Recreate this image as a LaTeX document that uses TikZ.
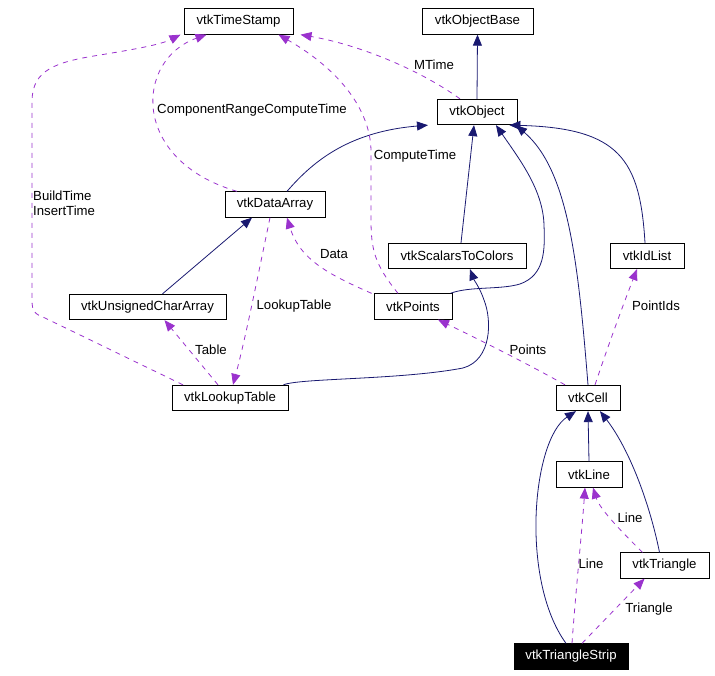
\documentclass[tikz,border=0pt]{standalone}
\usepackage{fontspec}
\setmainfont{Liberation Sans}
\usetikzlibrary{arrows.meta}
\definecolor{inh}{HTML}{191970}
\definecolor{use}{HTML}{9A32CD}
\begin{document}
\begin{tikzpicture}[x=1pt,y=-1pt,
  cls/.style={draw=black,line width=0.8pt,fill=white,inner sep=0pt,minimum height=25.5pt,font=\fontsize{13.2}{15}\selectfont},
  inhe/.style={draw=inh,line width=0.8pt,-{Triangle[length=11pt,width=9pt,fill=inh]}},
  usee/.style={draw=use,line width=0.8pt,dash pattern=on 5pt off 5pt,-{Triangle[length=11pt,width=9pt,fill=use]}},
  lab/.style={inner sep=0pt,font=\fontsize{13.2}{15}\selectfont}]
\useasboundingbox (0,0) rectangle (715,676);
% nodes
\node[cls,minimum width=109pt] (tst) at (238.5,21.5) {vtkTimeStamp};
\node[cls,minimum width=111pt] (ob) at (477.5,21.5) {vtkObjectBase};
\node[cls,minimum width=80pt] (obj) at (477,112) {vtkObject};
\node[cls,minimum width=100pt] (da) at (275,204.5) {vtkDataArray};
\node[cls,minimum width=138pt] (stc) at (457,256) {vtkScalarsToColors};
\node[cls,minimum width=74pt] (id) at (647,256) {vtkIdList};
\node[cls,minimum width=157pt] (uca) at (147.5,307) {vtkUnsignedCharArray};
\node[cls,minimum width=78pt] (pts) at (413,306.5) {vtkPoints};
\node[cls,minimum width=116pt] (lt) at (230,398) {vtkLookupTable};
\node[cls,minimum width=64pt] (cell) at (588,398) {vtkCell};
\node[cls,minimum width=66pt] (line) at (589,474.5) {vtkLine};
\node[cls,minimum width=89pt] (tri) at (664.5,565.5) {vtkTriangle};
\node[cls,minimum width=114pt,fill=black,text=white] (ts) at (571,656.5) {vtkTriangleStrip};
% inheritance
\draw[inhe] (obj.north) -- (ob.south);
\draw[inhe] ([xshift=12pt]da.north) .. controls (310,165) and (345,132) .. ([xshift=-49pt]obj.south);
\draw[inhe] ([xshift=4pt]stc.north) -- ([xshift=-3pt]obj.south);
\draw[inhe] ([xshift=-2pt]pts.north east) .. controls (470,286) and (500,290) .. (520,284)
  .. controls (545,275) and (545,250) .. (544,225)
  .. controls (543,190) and (520,160) .. ([xshift=19pt]obj.south);
\draw[inhe] (cell.north) .. controls (578,260) and (568,170) .. ([xshift=39pt]obj.south);
\draw[inhe] ([xshift=-2pt]id.north) .. controls (640,160) and (620,128) .. ([xshift=-8pt]obj.south east);
\draw[inhe] ([xshift=-5pt]lt.north east) .. controls (300,378) and (400,380) .. (463,368)
  .. controls (492,360) and (492,320) .. (484,300)
  .. controls (480,288) and (474,280) .. ([xshift=13pt]stc.south);
\draw[inhe] ([xshift=15pt]uca.north) -- ([xshift=-23pt]da.south);
\draw[inhe] (line.north) -- (cell.south);
\draw[inhe] ([xshift=-5pt]tri.north) .. controls (650,505) and (630,450) .. ([xshift=12pt]cell.south);
\draw[inhe] ([xshift=-5pt]ts.north) .. controls (520,580) and (532,440) .. ([xshift=-12pt]cell.south);
% usage
\draw[usee] ([xshift=-38pt]da.north) .. controls (130,160) and (135,60) .. ([xshift=-32pt]tst.south);
\node[lab] (l1) at (252,110) {ComponentRangeComputeTime};
\draw[usee] ([xshift=-47pt]lt.north) -- (45,318) .. controls (35,314) and (32,312) .. (32,300) -- (32,100)
  .. controls (33,70) and (55,62) .. (100,55) .. controls (130,50) and (160,45) .. ([xshift=-58pt]tst.south);
\node[lab,anchor=west,align=left] (l2) at (33,203.5) {BuildTime\\InsertTime};
\draw[usee] ([xshift=-17pt]obj.north) .. controls (420,70) and (360,45) .. ([xshift=62pt]tst.south);
\node[lab] (l3) at (434,65) {MTime};
\draw[usee] ([xshift=-15pt]pts.north) .. controls (375,265) and (371,250) .. (371,220) -- (371,150)
  .. controls (370,110) and (340,70) .. ([xshift=40pt]tst.south);
\node[lab] (l4) at (415,156) {ComputeTime};
\draw[usee] ([xshift=-2pt]pts.north west) .. controls (330,275) and (300,260) .. ([xshift=12pt]da.south);
\node[lab] (l5) at (334,254) {Data};
\draw[usee] ([xshift=-5pt]da.south) .. controls (255,290) and (245,340) .. ([xshift=3pt]lt.north);
\node[lab] (l6) at (294,306) {LookupTable};
\draw[usee] ([xshift=-12pt]lt.north) -- ([xshift=17pt]uca.south);
\node[lab] (l7) at (211,350) {Table};
\draw[usee] ([xshift=-23pt]cell.north) .. controls (530,365) and (480,340) .. ([xshift=25pt]pts.south);
\node[lab] (l8) at (528,350) {Points};
\draw[usee] ([xshift=7pt]cell.north) .. controls (610,340) and (625,300) .. ([xshift=-10pt]id.south);
\node[lab] (l9) at (656,306) {PointIds};
\draw[usee] ([xshift=1pt]ts.north) .. controls (575,600) and (582,530) .. ([xshift=-4pt]line.south);
\node[lab] (l10) at (591,564) {Line};
\draw[usee] ([xshift=-22pt]tri.north) .. controls (625,535) and (600,510) .. ([xshift=4pt]line.south);
\node[lab] (l11) at (630,518) {Line};
\draw[usee] ([xshift=11pt]ts.north) -- ([xshift=-20pt]tri.south);
\node[lab] (l12) at (649,609) {Triangle};
\end{tikzpicture}
\end{document}
